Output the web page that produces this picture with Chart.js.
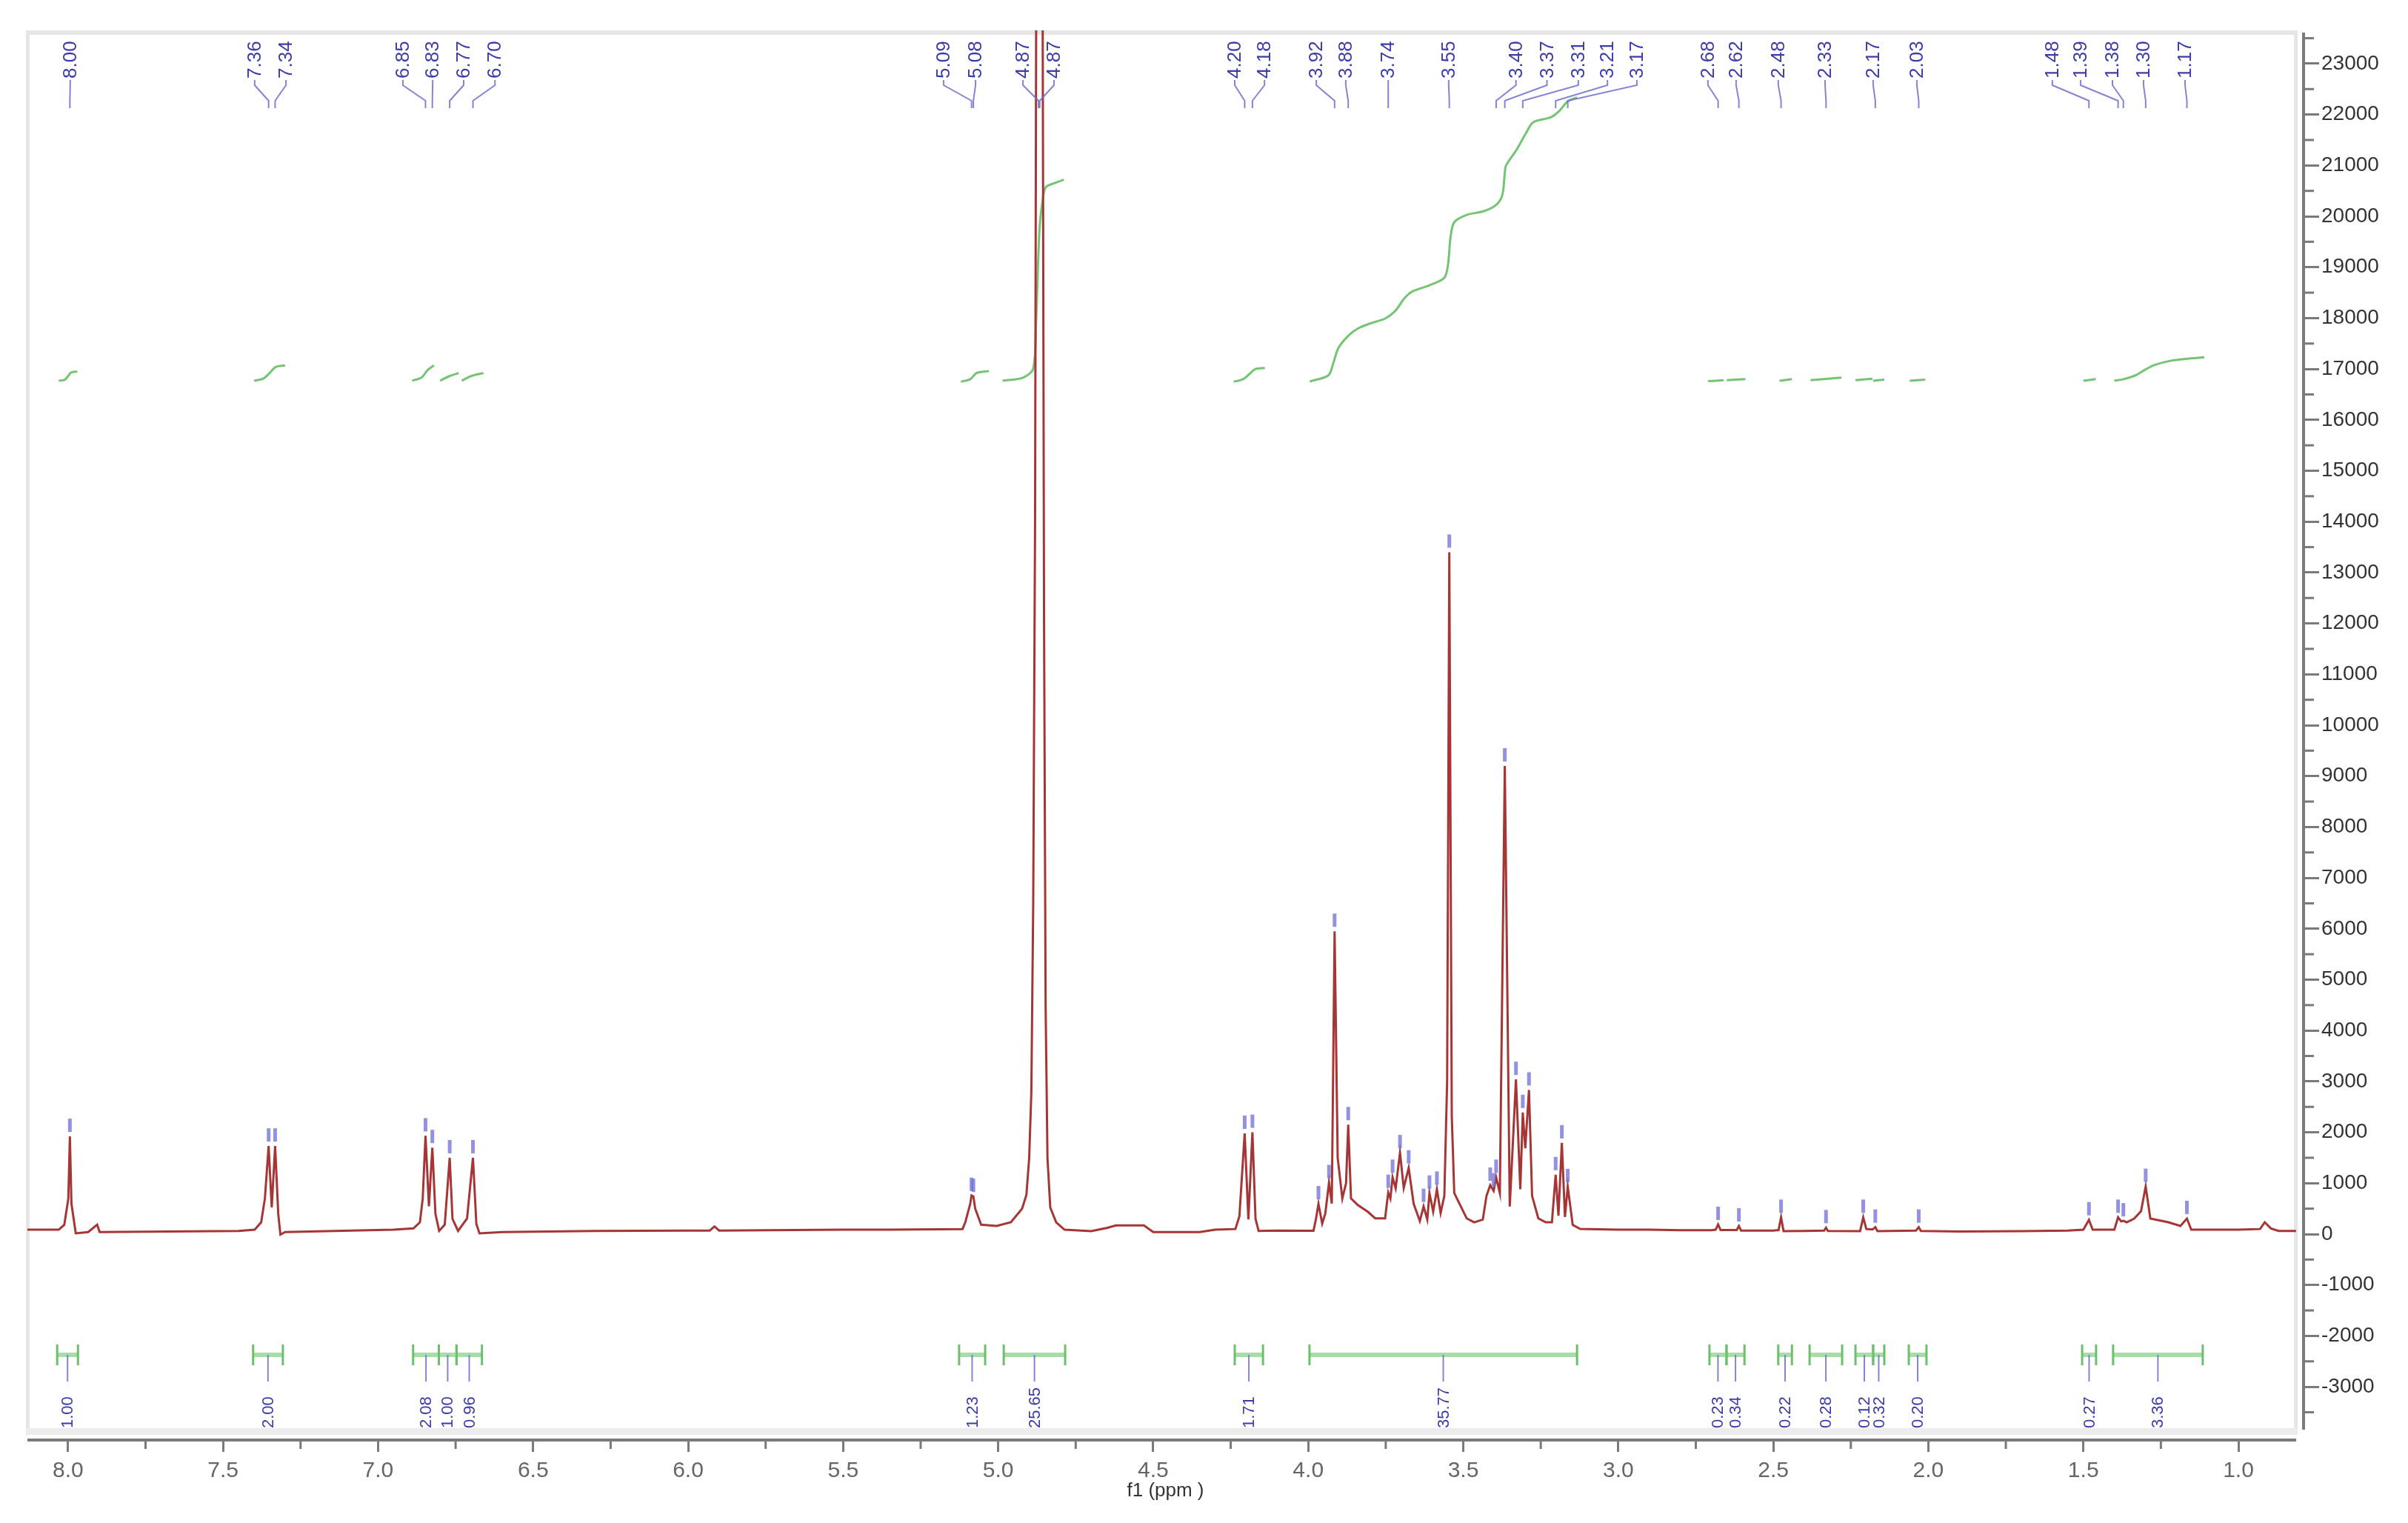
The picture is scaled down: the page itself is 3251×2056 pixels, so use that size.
<!DOCTYPE html>
<html>
<head>
<meta charset="utf-8">
<script src="https://cdn.jsdelivr.net/npm/chart.js@4.4.1/dist/chart.umd.min.js"></script>
<style>
  html, body { margin: 0; padding: 0; background: #fff; }
  #wrap { width: 3251px; height: 2056px; }
</style>
</head>
<body>
<div id="wrap"><canvas id="nmr" width="3251" height="2056"></canvas></div>
<script>
// 1H spectrum (ppm, intensity)
const specPpm = [
  8.131, 8.03, 8.012, 7.999, 7.994, 7.989, 7.975, 7.935, 7.906, 7.898,
  7.45, 7.398, 7.377, 7.365, 7.353, 7.343, 7.332, 7.322, 7.315, 7.30,
  6.95, 6.886, 6.865, 6.856, 6.847, 6.836, 6.825, 6.815, 6.803, 6.785,
  6.769, 6.760, 6.742, 6.713, 6.694, 6.683, 6.673, 6.60, 6.30, 6.00,
  5.93, 5.915, 5.90, 5.50, 5.353, 5.115, 5.106, 5.090, 5.086, 5.080,
  5.074, 5.055, 5.005, 4.959, 4.923, 4.909, 4.900, 4.893, 4.887, 4.881,
  4.876, 4.870, 4.864, 4.858, 4.852, 4.847, 4.841, 4.832, 4.813, 4.786,
  4.70, 4.65, 4.62, 4.53, 4.50, 4.35, 4.30, 4.235, 4.222, 4.205,
  4.193, 4.180, 4.170, 4.160, 4.10, 3.983, 3.975, 3.967, 3.955, 3.945,
  3.933, 3.924, 3.915, 3.905, 3.890, 3.878, 3.871, 3.862, 3.840, 3.808,
  3.784, 3.752, 3.742, 3.735, 3.728, 3.718, 3.704, 3.692, 3.676, 3.660,
  3.640, 3.628, 3.616, 3.609, 3.597, 3.585, 3.573, 3.561, 3.552, 3.545,
  3.537, 3.529, 3.489, 3.465, 3.437, 3.425, 3.413, 3.402, 3.394, 3.382,
  3.366, 3.350, 3.330, 3.316, 3.308, 3.300, 3.288, 3.278, 3.258, 3.234,
  3.214, 3.202, 3.193, 3.182, 3.172, 3.163, 3.147, 3.123, 3.00, 2.90,
  2.80, 2.70, 2.686, 2.678, 2.670, 2.618, 2.611, 2.604, 2.50, 2.483,
  2.475, 2.467, 2.40, 2.336, 2.330, 2.324, 2.22, 2.210, 2.200, 2.180,
  2.171, 2.164, 2.04, 2.031, 2.024, 1.90, 1.70, 1.55, 1.50, 1.482,
  1.470, 1.40, 1.388, 1.378, 1.371, 1.360, 1.336, 1.314, 1.299, 1.284,
  1.226, 1.187, 1.166, 1.152, 1.00, 0.93, 0.915, 0.895, 0.87, 0.814
];
const specInt = [
  87, 87, 184, 700, 1920, 600, 15, 40, 184, 40,
  63, 87, 233, 700, 1730, 524, 1730, 400, -10, 40,
  87, 112, 233, 700, 1930, 548, 1700, 400, 63, 184,
  1500, 300, 63, 306, 1500, 200, 15, 40, 63, 70,
  70, 150, 70, 87, 87, 100, 233, 600, 760, 740,
  500, 184, 160, 233, 500, 767, 1495, 2800, 6500, 14000,
  28000, 40000, 40000, 28000, 12000, 4500, 1495, 524, 233, 87,
  60, 120, 170, 170, 40, 40, 87, 100, 350, 1980,
  290, 2000, 300, 63, 70, 66, 300, 596, 206, 400,
  1012, 600, 5950, 1500, 700, 1000, 2150, 700, 570, 440,
  310, 310, 820, 700, 1116, 900, 1600, 908, 1300, 596,
  258, 544, 285, 805, 440, 882, 414, 752, 3000, 13400,
  2312, 805, 310, 232, 285, 752, 960, 850, 1116, 805,
  9200, 544, 3040, 882, 2390, 1688, 2832, 752, 310, 232,
  232, 1168, 362, 1792, 336, 934, 180, 102, 87, 87,
  75, 75, 87, 190, 80, 80, 160, 70, 70, 80,
  330, 60, 63, 70, 126, 63, 60, 330, 100, 90,
  136, 60, 70, 136, 63, 50, 60, 70, 87, 281,
  87, 87, 330, 250, 260, 233, 306, 451, 937, 306,
  233, 160, 306, 87, 87, 100, 233, 112, 63, 63
];

// integral curves (null = break between regions)
const integralPpm = [
  8.03, 8.01, 8.00, 7.99, 7.97, null,
  7.40, 7.37, 7.35, 7.33, 7.30, null,
  6.89, 6.86, 6.84, 6.82, null,
  6.80, 6.77, 6.74, null,
  6.73, 6.70, 6.66, null,
  5.12, 5.09, 5.07, 5.03, null,
  4.986, 4.92, 4.887, 4.878, 4.867, 4.857, 4.847, 4.82, 4.788, null,
  4.24, 4.21, 4.19, 4.17, 4.14, null,
  3.995, 3.935, 3.919, 3.903, 3.871, 3.839, 3.800, 3.752, 3.720, 3.688,
  3.664, 3.609, 3.561, 3.549, 3.541, 3.529, 3.489, 3.433, 3.394, 3.374,
  3.366, 3.362, 3.330, 3.298, 3.274, 3.218, 3.191, 3.163, 3.133, null,
  2.71, 2.66, null, 2.65, 2.59, null, 2.48, 2.44, null, 2.38, 2.28, null,
  2.235, 2.18, null, 2.178, 2.142, null, 2.06, 2.01, null,
  1.50, 1.46, null,
  1.40, 1.37, 1.33, 1.30, 1.27, 1.22, 1.17, 1.11
];
const integralVal = [
  16770, 16790, 16860, 16930, 16950, null,
  16770, 16810, 16920, 17040, 17070, null,
  16770, 16830, 16980, 17070, null,
  16770, 16860, 16920, null,
  16770, 16860, 16920, null,
  16750, 16800, 16920, 16960, null,
  16770, 16830, 17007, 17900, 19723, 20300, 20568, 20650, 20719, null,
  16750, 16800, 16900, 17000, 17020, null,
  16754, 16875, 17118, 17409, 17652, 17798, 17895, 17992, 18137, 18404,
  18525, 18646, 18792, 19059, 19592, 19884, 20029, 20102, 20223, 20417,
  20854, 20999, 21290, 21630, 21848, 21945, 22066, 22260, 22340, null,
  16760, 16780, null, 16780, 16800, null, 16770, 16800, null, 16780, 16830, null,
  16780, 16810, null, 16770, 16790, null, 16770, 16790, null,
  16770, 16800, null,
  16770, 16800, 16880, 16990, 17080, 17160, 17200, 17230
];

// peak-picking markers
const pickPpm = [7.994, 7.353, 7.332, 6.847, 6.825, 6.769, 6.694, 5.086, 5.080, 4.205, 4.180,
  3.967, 3.933, 3.915, 3.871, 3.742, 3.728, 3.704, 3.676, 3.628, 3.609, 3.585, 3.545,
  3.413, 3.402, 3.394, 3.366, 3.330, 3.308, 3.288, 3.202, 3.182, 3.163,
  2.678, 2.611, 2.475, 2.330, 2.210, 2.171, 2.031, 1.482, 1.388, 1.371, 1.299, 1.166];
const pickVal = [1920, 1730, 1730, 1930, 1700, 1500, 1500, 760, 740, 1980, 2000,
  596, 1012, 5950, 2150, 820, 1116, 1600, 1300, 544, 805, 882, 13400,
  960, 850, 1116, 9200, 3040, 2390, 2832, 1168, 1792, 934,
  190, 160, 330, 126, 330, 136, 136, 281, 330, 260, 937, 306];

// peak labels at the top
const peakText = ['8.00', '7.36', '7.34', '6.85', '6.83', '6.77', '6.70', '5.09', '5.08', '4.87', '4.87',
  '4.20', '4.18', '3.92', '3.88', '3.74', '3.55', '3.40', '3.37', '3.31', '3.21', '3.17',
  '2.68', '2.62', '2.48', '2.33', '2.17', '2.03', '1.48', '1.39', '1.38', '1.30', '1.17'];
const peakPpm = [7.994, 7.353, 7.332, 6.847, 6.825, 6.769, 6.694, 5.086, 5.080, 4.870, 4.866,
  4.205, 4.180, 3.915, 3.871, 3.742, 3.545, 3.394, 3.366, 3.308, 3.202, 3.163,
  2.678, 2.611, 2.475, 2.330, 2.171, 2.031, 1.482, 1.388, 1.371, 1.299, 1.166];
const peakTextPpm = [7.993, 7.398, 7.297, 6.920, 6.824, 6.724, 6.623, 5.176, 5.073, 4.920, 4.820,
  4.237, 4.141, 3.974, 3.879, 3.742, 3.547, 3.330, 3.230, 3.129, 3.035, 2.940,
  2.711, 2.620, 2.484, 2.333, 2.178, 2.037, 1.600, 1.509, 1.406, 1.306, 1.172];

// integration regions at the bottom
const integStart = [8.035, 7.403, 6.887, 6.804, 6.747, 5.126, 4.982, 4.237, 3.996,
  2.706, 2.651, 2.484, 2.383, 2.235, 2.178, 2.063, 1.504, 1.404];
const integEnd = [7.968, 7.307, 6.804, 6.747, 6.665, 5.042, 4.784, 4.146, 3.133,
  2.651, 2.593, 2.440, 2.278, 2.178, 2.142, 2.006, 1.459, 1.115];
const integText = ['1.00', '2.00', '2.08', '1.00', '0.96', '1.23', '25.65', '1.71', '35.77',
  '0.23', '0.34', '0.22', '0.28', '0.12', '0.32', '0.20', '0.27', '3.36'];

// axis ticks
const xTickValues = [1.0, 1.5, 2.0, 2.5, 3.0, 3.5, 4.0, 4.5, 5.0, 5.5, 6.0, 6.5, 7.0, 7.5, 8.0];
const xMinorValues = [1.25, 1.75, 2.25, 2.75, 3.25, 3.75, 4.25, 4.75, 5.25, 5.75, 6.25, 6.75, 7.25, 7.75];
const yTickValues = [-3000, -2000, -1000, 0, 1000, 2000, 3000, 4000, 5000, 6000, 7000, 8000, 9000,
  10000, 11000, 12000, 13000, 14000, 15000, 16000, 17000, 18000, 19000, 20000, 21000, 22000, 23000];

const INTEG_LEVEL = -2373;
const FONT = '"Liberation Sans", Arial, sans-serif';
const BLUE = '#3c3ca8';
const LINK = 'rgba(110,110,205,0.85)';
const AXIS = '#7a7a7a';

const spectrum = specPpm.map((p, i) => ({ x: p, y: specInt[i] }));

const integralSets = [];
let seg = [];
integralPpm.forEach((p, i) => {
  if (p === null) { integralSets.push(seg); seg = []; }
  else seg.push({ x: p, y: integralVal[i] });
});
if (seg.length) integralSets.push(seg);

const datasets = [{
  data: spectrum,
  borderColor: '#a63636',
  borderWidth: 3,
  pointRadius: 0,
  tension: 0
}];
integralSets.forEach(s => datasets.push({
  data: s,
  borderColor: '#74c474',
  borderWidth: 3,
  pointRadius: 0,
  tension: 0.3
}));
integStart.forEach((s, i) => datasets.push({
  data: [{ x: s, y: INTEG_LEVEL }, { x: integEnd[i], y: INTEG_LEVEL }],
  borderColor: '#a9dca9',
  borderWidth: 6,
  pointStyle: 'line',
  pointRadius: 14,
  pointRotation: 90,
  pointBorderColor: '#6cbf6c',
  pointBorderWidth: 3
}));

const decor = {
  id: 'decor',
  beforeDatasetsDraw(chart) {
    const ctx = chart.ctx;
    ctx.save();
    ctx.fillStyle = '#e6e6e6';
    ctx.fillRect(35, 41, 5, 1896);
    ctx.fillRect(35, 41, 3067, 6);
    ctx.fillRect(3097, 41, 5, 1896);
    ctx.fillStyle = '#ececec';
    ctx.fillRect(35, 1928, 3067, 9);
    ctx.restore();
  },
  afterDatasetsDraw(chart) {
    const ctx = chart.ctx;
    const xs = chart.scales.x, ys = chart.scales.y;
    ctx.save();

    // axis lines
    ctx.fillStyle = AXIS;
    ctx.fillRect(37, 1942, 3063, 4);
    ctx.fillRect(3108, 44, 4, 1886);

    // minor ticks
    xMinorValues.forEach(v => {
      const px = xs.getPixelForValue(v);
      ctx.fillRect(px - 1.5, 1946, 3, 10);
    });
    yTickValues.forEach(v => {
      const py = ys.getPixelForValue(v + 500);
      if (v + 500 < 23600) ctx.fillRect(3112, py - 1.5, 12, 3);
    });
    ctx.fillRect(3112, ys.getPixelForValue(-3500) - 1.5, 12, 3);

    // peak-pick markers
    ctx.fillStyle = 'rgba(110,110,215,0.75)';
    pickPpm.forEach((p, i) => {
      const px = xs.getPixelForValue(p), py = ys.getPixelForValue(pickVal[i]);
      ctx.fillRect(px - 2.5, py - 24, 5, 18);
    });

    // top peak labels
    ctx.strokeStyle = LINK;
    ctx.lineWidth = 2;
    ctx.fillStyle = BLUE;
    ctx.font = '26px ' + FONT;
    peakText.forEach((t, i) => {
      const px = xs.getPixelForValue(peakPpm[i]);
      const tx = xs.getPixelForValue(peakTextPpm[i]);
      ctx.beginPath();
      ctx.moveTo(tx, 108);
      ctx.lineTo(tx, 115);
      ctx.lineTo(px, 136);
      ctx.lineTo(px, 146);
      ctx.stroke();
      ctx.save();
      ctx.translate(tx, 106);
      ctx.rotate(-Math.PI / 2);
      ctx.textAlign = 'left';
      ctx.textBaseline = 'middle';
      ctx.fillText(t, 0, 1);
      ctx.restore();
    });

    // integral values under the bars
    ctx.font = '22px ' + FONT;
    const by = ys.getPixelForValue(INTEG_LEVEL);
    integText.forEach((t, i) => {
      const cx = xs.getPixelForValue((integStart[i] + integEnd[i]) / 2);
      ctx.beginPath();
      ctx.moveTo(cx, by);
      ctx.lineTo(cx, by + 36);
      ctx.stroke();
      ctx.save();
      ctx.translate(cx, by + 99);
      ctx.rotate(-Math.PI / 2);
      ctx.textAlign = 'left';
      ctx.textBaseline = 'middle';
      ctx.fillText(t, 0, 1);
      ctx.restore();
    });
    ctx.restore();
  }
};

new Chart(document.getElementById('nmr'), {
  type: 'line',
  data: { datasets },
  plugins: [decor],
  options: {
    responsive: false,
    animation: false,
    events: [],
    layout: { padding: { left: 37, top: 41, right: 0, bottom: 0 } },
    plugins: { legend: { display: false }, tooltip: { enabled: false } },
    scales: {
      x: {
        type: 'linear',
        reverse: true,
        min: 0.7898,
        max: 8.131,
        afterBuildTicks: (s) => { s.ticks = xTickValues.map(v => ({ value: v })); },
        afterFit: (s) => { s.height = 113; },
        border: { display: false },
        grid: { drawOnChartArea: false, drawTicks: true, tickLength: 17, tickWidth: 3, tickColor: AXIS },
        ticks: {
          autoSkip: false,
          maxRotation: 0,
          padding: 8,
          color: '#666',
          font: { family: FONT, size: 30 },
          callback: (v) => Number(v).toFixed(1)
        },
        title: {
          display: true,
          text: 'f1 (ppm )',
          color: '#333',
          font: { family: FONT, size: 26 },
          padding: { top: 0, bottom: 28 }
        }
      },
      y: {
        type: 'linear',
        position: 'right',
        min: -4032,
        max: 23654,
        afterBuildTicks: (s) => { s.ticks = yTickValues.map(v => ({ value: v })); },
        afterFit: (s) => { s.width = 141; },
        border: { display: false },
        grid: { drawOnChartArea: false, drawTicks: true, tickLength: 21, tickWidth: 3, tickColor: AXIS },
        ticks: {
          autoSkip: false,
          padding: 3,
          color: '#333',
          font: { family: FONT, size: 28 },
          callback: (v) => String(v)
        }
      }
    }
  }
});
</script>
</body>
</html>
